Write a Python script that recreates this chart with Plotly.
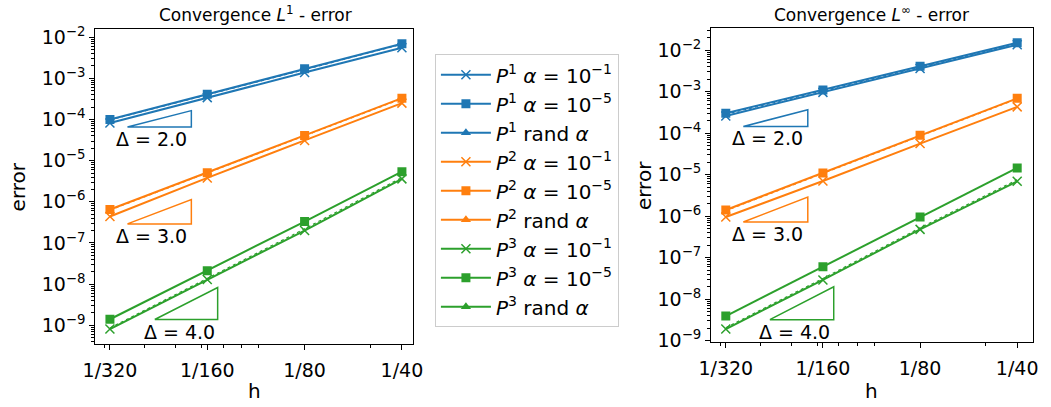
import numpy as np
import plotly.graph_objects as go

# ---------------- data ----------------
h = [1/320, 1/160, 1/80, 1/40]
h_labels = ["1/320", "1/160", "1/80", "1/40"]

# L1 errors
l1_p1_a1 = [8.2e-5, 3.4e-4, 1.38e-3, 5.5e-3]
l1_p1_a5 = [1.0e-4, 4.1e-4, 1.70e-3, 6.9e-3]
l1_p1_rand = [9.7e-5, 4.0e-4, 1.65e-3, 6.7e-3]
l1_p2_a1 = [4.4e-7, 3.8e-6, 3.1e-5, 2.5e-4]
l1_p2_a5 = [6.5e-7, 5.1e-6, 4.1e-5, 3.3e-4]
l1_p2_rand = [6.3e-7, 5.0e-6, 4.0e-5, 3.2e-4]
l1_p3_a1 = [8.1e-10, 1.3e-8, 2.0e-7, 3.6e-6]
l1_p3_a5 = [1.4e-9, 2.1e-8, 3.3e-7, 5.4e-6]
l1_p3_rand = [8.6e-10, 1.38e-8, 2.2e-7, 3.9e-6]

# Linf errors
li_p1_a1 = [2.6e-4, 9.6e-4, 3.6e-3, 1.35e-2]
li_p1_a5 = [3.0e-4, 1.1e-3, 4.1e-3, 1.5e-2]
li_p1_rand = [2.85e-4, 1.04e-3, 3.9e-3, 1.43e-2]
li_p2_a1 = [9.5e-7, 7.0e-6, 5.6e-5, 4.3e-4]
li_p2_a5 = [1.4e-6, 1.1e-5, 8.9e-5, 6.9e-4]
li_p2_rand = [1.35e-6, 1.06e-5, 8.6e-5, 6.7e-4]
li_p3_a1 = [1.9e-9, 2.9e-8, 4.8e-7, 6.9e-6]
li_p3_a5 = [3.9e-9, 6.0e-8, 9.5e-7, 1.45e-5]
li_p3_rand = [2.05e-9, 3.15e-8, 5.2e-7, 7.5e-6]

# slope triangles: (h_start, h_end, y_base, slope)
l1_tri_h0 = [3.54e-3, 3.54e-3, 4.30e-3]
l1_tri_h1 = [5.58e-3, 5.58e-3, 6.73e-3]
l1_tri_y0 = [6.6e-5, 2.9e-7, 1.38e-9]
li_tri_h0 = [3.54e-3, 3.54e-3, 4.28e-3]
li_tri_h1 = [5.61e-3, 5.61e-3, 6.75e-3]
li_tri_y0 = [1.45e-4, 7.2e-7, 3.2e-9]
tri_slopes = [2.0, 3.0, 4.0]

colors = ["#1f77b4", "#ff7f0e", "#2ca02c"]
degrees = ["1", "2", "3"]

l1_data = [(l1_p1_a1, l1_p1_a5, l1_p1_rand), (l1_p2_a1, l1_p2_a5, l1_p2_rand),
           (l1_p3_a1, l1_p3_a5, l1_p3_rand)]
li_data = [(li_p1_a1, li_p1_a5, li_p1_rand), (li_p2_a1, li_p2_a5, li_p2_rand),
           (li_p3_a1, li_p3_a5, li_p3_rand)]

FONT = "DejaVu Sans"
LW = 2
MS = 9

fig = go.Figure()


def add_series(data, xa, ya, legend):
    for deg, col, (a1, a5, rnd) in zip(degrees, colors, data):
        fig.add_trace(go.Scatter(
            x=h, y=a1, xaxis=xa, yaxis=ya, mode="lines+markers",
            line=dict(color=col, width=LW),
            marker=dict(symbol="x-thin", size=MS, line=dict(color=col, width=1.5)),
            name=f"<i>P</i><sup>{deg}</sup> <i>α</i> = 10<sup>−1</sup>",
            legendgroup=f"a1{deg}", showlegend=legend))
        fig.add_trace(go.Scatter(
            x=h, y=a5, xaxis=xa, yaxis=ya, mode="lines+markers",
            line=dict(color=col, width=LW),
            marker=dict(symbol="square", size=MS, color=col),
            name=f"<i>P</i><sup>{deg}</sup> <i>α</i> = 10<sup>−5</sup>",
            legendgroup=f"a5{deg}", showlegend=legend))
        if legend:
            fig.add_trace(go.Scatter(
                x=[None], y=[None], xaxis=xa, yaxis=ya, mode="lines+markers",
                line=dict(color=col, width=LW),
                marker=dict(symbol="triangle-up", size=MS, color=col),
                name=f"<i>P</i><sup>{deg}</sup> rand <i>α</i>",
                legendgroup=f"r{deg}", showlegend=True))
        fig.add_trace(go.Scatter(
            x=h, y=rnd, xaxis=xa, yaxis=ya, mode="lines",
            line=dict(color=col, width=1.2, dash="dot"), showlegend=False,
            hoverinfo="skip"))


def add_triangles(h0s, h1s, y0s, xa, ya, xref, yref):
    for col, hh0, hh1, yy0, s in zip(colors, h0s, h1s, y0s, tri_slopes):
        yy1 = yy0 * (hh1 / hh0) ** s
        fig.add_trace(go.Scatter(
            x=[hh0, hh1, hh1, hh0], y=[yy0, yy1, yy0, yy0], xaxis=xa, yaxis=ya,
            mode="lines", line=dict(color=col, width=1.5), showlegend=False,
            hoverinfo="skip"))
        fig.add_annotation(
            x=np.log10(hh0), y=np.log10(yy0), xref=xref, yref=yref,
            text=f"Δ = {s:.1f}", showarrow=False, xanchor="left", yanchor="middle",
            xshift=-13, yshift=-12, font=dict(family=FONT, size=19, color="black"))


add_series(l1_data, "x", "y", True)
add_series(li_data, "x2", "y2", False)
add_triangles(l1_tri_h0, l1_tri_h1, l1_tri_y0, "x", "y", "x", "y")
add_triangles(li_tri_h0, li_tri_h1, li_tri_y0, "x2", "y2", "x2", "y2")

y_tickvals = [10.0 ** e for e in range(-9, -1)]
y_ticktext = [f"10<sup>−{-e}</sup>" for e in range(-9, -1)]
minor_vals = [k * 10.0 ** e for e in range(-11, 0) for k in range(2, 10)]

TICKFONT = dict(family=FONT, size=19, color="black")
xcommon = dict(type="log", tickmode="array", tickvals=h, ticktext=h_labels,
               showline=True, mirror=True, linecolor="black", linewidth=1,
               ticks="outside", ticklen=5, tickwidth=1, tickcolor="black",
               showgrid=False, zeroline=False, ticklabelstandoff=4,
               tickfont=TICKFONT,
               minor=dict(tickmode="array", tickvals=minor_vals, ticks="outside",
                          ticklen=3, tickwidth=1, tickcolor="black", showgrid=False))
ycommon = dict(type="log", tickmode="array", tickvals=y_tickvals, ticktext=y_ticktext,
               showline=True, mirror=True, linecolor="black", linewidth=1,
               ticks="outside", ticklen=5, tickwidth=1, tickcolor="black",
               showgrid=False, zeroline=False,
               tickfont=TICKFONT,
               minor=dict(tickmode="array", tickvals=minor_vals, ticks="outside",
                          ticklen=3, tickwidth=1, tickcolor="black", showgrid=False))

fig.update_layout(
    width=1051, height=407, margin=dict(l=0, r=0, t=0, b=0),
    plot_bgcolor="white", paper_bgcolor="white",
    font=dict(family=FONT, size=17, color="black"),
    xaxis=dict(domain=[0.0809, 0.3896], anchor="y", range=[-2.5506, -1.5681], **xcommon),
    yaxis=dict(domain=[0.1376, 0.9386], anchor="x", range=[-9.453, -1.805], **ycommon),
    xaxis2=dict(domain=[0.6794, 0.9921], anchor="y2", range=[-2.5507, -1.5535], **xcommon),
    yaxis2=dict(domain=[0.1418, 0.9410], anchor="x2", range=[-9.04, -1.471], **ycommon),
    legend=dict(x=0.411, y=0.8747, xanchor="left", yanchor="top",
                bgcolor="white", bordercolor="#cccccc", borderwidth=1,
                font=dict(family=FONT, size=20, color="black"),
                itemwidth=50, traceorder="normal", tracegroupgap=3),
    showlegend=True,
)

# titles and axis labels
for text, xc, yc in [("Convergence <i>L</i><sup>1</sup> - error", 249, 9),
                     ("Convergence <i>L</i><sup>∞</sup> - error", 878, 9)]:
    fig.add_annotation(x=xc / 1051, y=1 - yc / 407, xref="paper", yref="paper",
                       text=text, showarrow=False, xanchor="center", yanchor="middle",
                       font=dict(family=FONT, size=17, color="black"))
for xc, yc in [(6, 188), (645, 187)]:
    fig.add_annotation(x=xc / 1051, y=1 - yc / 407, xref="paper", yref="paper",
                       text="error", textangle=-90, showarrow=False,
                       xanchor="center", yanchor="middle",
                       font=dict(family=FONT, size=20, color="black"))
for xc, yc in [(248, 400), (878, 400)]:
    fig.add_annotation(x=xc / 1051, y=1 - yc / 407, xref="paper", yref="paper",
                       text="h", showarrow=False, xanchor="center", yanchor="middle",
                       font=dict(family=FONT, size=20, color="black"))

fig.write_html("out.html")
